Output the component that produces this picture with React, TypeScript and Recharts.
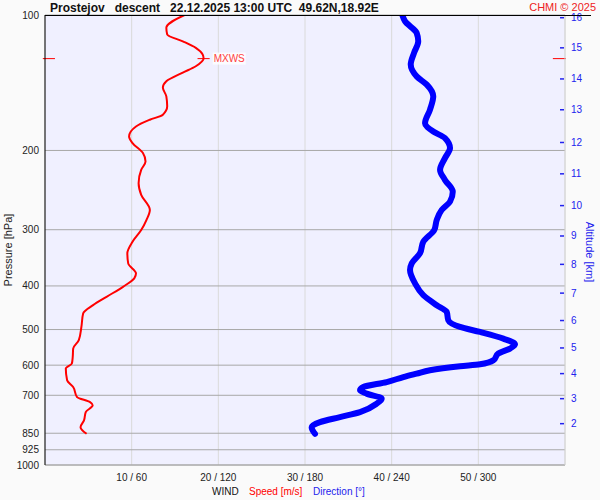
import React from "react";
import {
  ScatterChart,
  Scatter,
  XAxis,
  YAxis,
  CartesianGrid,
  ReferenceLine,
} from "recharts";

const FONT = '"Liberation Sans", Arial, sans-serif';

// wind speed profile [m/s], top of sounding first
const speedPressure = [
  100, 106.8, 110.5, 114.4, 118.3, 122.5, 125, 130, 134.3, 140.4,
  145, 151.6, 159.6, 166.6, 170.9, 176.9, 186.2, 192.6, 202.7, 211.6,
  220.9, 236.4, 251, 271.2, 285.5, 300.5, 319, 338.6, 356.3, 375.1,
  384.8, 401.8, 423, 441.4, 460.6, 493.4, 528.1, 551.1, 575.4, 595.2,
  610.6, 648.3, 670.9, 706.3, 724.6, 737, 762.8, 796, 823.9, 852.2,
];
const speedValues = [
  16.1, 14.0, 14.1, 15.9, 17.4, 18.2, 18.3, 17.4, 15.9, 14.0,
  13.6, 14.0, 14.1, 13.6, 12.1, 10.5, 9.7, 10.1, 11.3, 11.6,
  11.1, 10.8, 11.1, 12.1, 11.7, 11.1, 10.1, 9.5, 9.6, 10.5,
  10.3, 9.0, 7.1, 5.55, 4.4, 4.2, 3.9, 3.25, 3.2, 3.1,
  2.4, 2.55, 3.25, 3.7, 5.2, 5.5, 4.7, 4.5, 4.1, 4.8,
];

// wind direction profile [deg]
const dirPressure = [
  100, 103.2, 109.6, 114.4, 121.4, 128.9, 136.9, 142.8, 151.6, 162.4,
  173.9, 181.5, 187.7, 197.6, 208, 220.9, 232.5, 246.9, 259.8, 271.2,
  285.5, 300.5, 319, 338.6, 356.3, 368.8, 394.9, 419.4, 441.4, 456.8,
  476.7, 493.4, 506.2, 523.7, 539.3, 551.1, 565.4, 585.2, 597.3, 603.4,
  615.9, 626.5, 637.6, 654.1, 671, 682.4, 694, 712.2, 730.6, 762.8,
  782.6, 802.9, 823.9, 852.2,
];
const dirValues = [
  247.4, 249.2, 257.3, 258.4, 255.5, 253.2, 257.3, 264.3, 268.8, 266.5,
  263.1, 268.8, 276.9, 280.4, 276.9, 273.5, 276.9, 282.3, 280.4, 274.6,
  271.2, 269.5, 261.9, 259.6, 253.9, 252.7, 256.2, 261.9, 271.2, 278.1,
  279.2, 287.3, 301.2, 317.3, 325.4, 321.9, 313.8, 310.4, 301.2, 287.3,
  266.5, 257.3, 248.1, 236.6, 220.4, 218.1, 222.7, 233.1, 229.6, 218.1,
  204.2, 190.4, 184.6, 186.9,
];

const pressureTicks = [100, 200, 300, 400, 500, 600, 700, 850, 925, 1000];
const speedTicks = [10, 20, 30, 40, 50];
const dirTicks = [60, 120, 180, 240, 300];
const altKm = [2, 3, 4, 5, 6, 7, 8, 9, 10, 11, 12, 13, 14, 15, 16];
const altPressure = [
  809.4, 712.2, 626.5, 549.4, 477.5, 415, 358.2, 309.8, 265.2, 225.4,
  192, 162.4, 138.7, 118.3, 101.4,
];

const speedData = speedPressure.map((p, i) => ({ p, v: speedValues[i] }));
const dirData = dirPressure.map((p, i) => ({ p, v: dirValues[i] }));

const maxSpeed = Math.max(...speedValues);
const maxP = speedPressure[speedValues.indexOf(maxSpeed)];

const BLUE = "#2222ee";
const noShape = () => <g />;

function AltTick({ x, y, payload }: any) {
  const km = altKm[altPressure.indexOf(payload.value)];
  return (
    <g>
      <line x1={x - 5} x2={x - 1} y1={y} y2={y} stroke={BLUE} strokeWidth={1.5} />
      <text x={x + 6} y={y} dy="0.35em" fill={BLUE} fontSize={10} fontFamily={FONT}>
        {km}
      </text>
    </g>
  );
}

function MxwsLabel({ viewBox }: any) {
  const x = viewBox.x + viewBox.width + 4;
  const y = viewBox.y;
  return (
    <g>
      <rect x={x - 1} y={y - 6} width={33} height={12} fill="#ffffff" fillOpacity={0.8} />
      <text x={x} y={y} dy="0.35em" fontSize={10} fill="#ff4040" fontFamily={FONT}>
        MXWS
      </text>
    </g>
  );
}

export default function App() {
  return (
    <div
      style={{
        position: "absolute",
        left: 0,
        top: 0,
        width: 600,
        height: 500,
        background: "#fafafa",
        fontFamily: FONT,
      }}
    >
      <ScatterChart width={600} height={500} margin={{ top: 15, right: 0, bottom: 5, left: 0 }}>
        <CartesianGrid horizontal={false} stroke="#dadada" fill="#f0f0ff" />
        <CartesianGrid vertical={false} stroke="#a8a8a8" />
        <XAxis
          type="number"
          dataKey="v"
          domain={[0, 60]}
          ticks={speedTicks}
          interval={0}
          allowDataOverflow
          height={30}
          tickSize={0}
          tickMargin={9}
          tickLine={false}
          axisLine={{ stroke: "#a8a8a8" }}
          tick={{ fill: "#222", fontSize: 10, fontFamily: FONT }}
          tickFormatter={(v: number) => `${v} / ${dirTicks[speedTicks.indexOf(v)]}`}
        />
        <XAxis xAxisId="dir" type="number" dataKey="v" domain={[0, 360]} allowDataOverflow hide />
        <YAxis
          type="number"
          dataKey="p"
          scale="log"
          domain={[100, 1000]}
          reversed
          allowDataOverflow
          ticks={pressureTicks}
          interval={0}
          width={45}
          tickSize={0}
          tickMargin={6}
          tickLine={false}
          axisLine={{ stroke: "#000" }}
          tick={{ fill: "#222", fontSize: 10, fontFamily: FONT }}
        />
        <YAxis
          yAxisId="alt"
          orientation="right"
          type="number"
          dataKey="p"
          scale="log"
          domain={[100, 1000]}
          reversed
          allowDataOverflow
          ticks={altPressure}
          interval={0}
          width={35}
          tickSize={0}
          tickMargin={0}
          tickLine={false}
          axisLine={{ stroke: "#d4d4d4" }}
          tick={(props: any) => <AltTick {...props} />}
        />
        <Scatter
          data={speedData}
          fill="#ff0000"
          line={{ stroke: "#ff0000", strokeWidth: 2, strokeLinejoin: "round" }}
          lineJointType="monotoneY"
          shape={noShape}
          isAnimationActive={false}
        />
        <Scatter
          data={dirData}
          xAxisId="dir"
          yAxisId="alt"
          fill="#0000ff"
          line={{
            stroke: "#0000ff",
            strokeWidth: 6,
            strokeLinecap: "round",
            strokeLinejoin: "round",
          }}
          lineJointType="monotoneY"
          shape={noShape}
          isAnimationActive={false}
        />
        {/* max wind speed markers */}
        <ReferenceLine
          segment={[{ x: -0.25, y: maxP }, { x: 1.15, y: maxP }]}
          stroke="#ff0000"
          ifOverflow="visible"
        />
        <ReferenceLine
          segment={[{ x: 58.6, y: maxP }, { x: 60.1, y: maxP }]}
          stroke="#ff0000"
          ifOverflow="visible"
        />
        <ReferenceLine
          segment={[{ x: maxSpeed - 0.7, y: maxP }, { x: maxSpeed + 0.7, y: maxP }]}
          stroke="#ff0000"
          ifOverflow="visible"
          label={(props: any) => <MxwsLabel {...props} />}
        />
      </ScatterChart>
      <svg
        width={600}
        height={500}
        style={{ position: "absolute", left: 0, top: 0, pointerEvents: "none" }}
      >
        <line x1={45} x2={591} y1={15.5} y2={15.5} stroke="#000" strokeWidth={1} />
        <text
          x={50}
          y={12}
          fontSize={12}
          fontWeight="bold"
          fill="#111"
          fontFamily={FONT}
          style={{ whiteSpace: "pre" }}
        >
          {"Prostejov   descent   22.12.2025 13:00 UTC  49.62N,18.92E"}
        </text>
        <text x={596} y={10.5} fontSize={11} fill="#ee2222" textAnchor="end" fontFamily={FONT}>
          CHMI © 2025
        </text>
        <text
          x={8}
          y={250}
          fontSize={11}
          fill="#222"
          textAnchor="middle"
          dominantBaseline="central"
          fontFamily={FONT}
          transform="rotate(-90 8 250)"
        >
          Pressure [hPa]
        </text>
        <text
          x={590}
          y={252}
          fontSize={11}
          fill={BLUE}
          textAnchor="middle"
          dominantBaseline="central"
          fontFamily={FONT}
          transform="rotate(90 590 252)"
        >
          Altitude [km]
        </text>
        <text x={212} y={495} fontSize={10} fill="#111" fontFamily={FONT}>
          WIND
        </text>
        <text x={249} y={495} fontSize={10} fill="#ff0000" fontFamily={FONT}>
          Speed [m/s]
        </text>
        <text x={313} y={495} fontSize={10} fill={BLUE} fontFamily={FONT}>
          Direction [°]
        </text>
      </svg>
    </div>
  );
}
